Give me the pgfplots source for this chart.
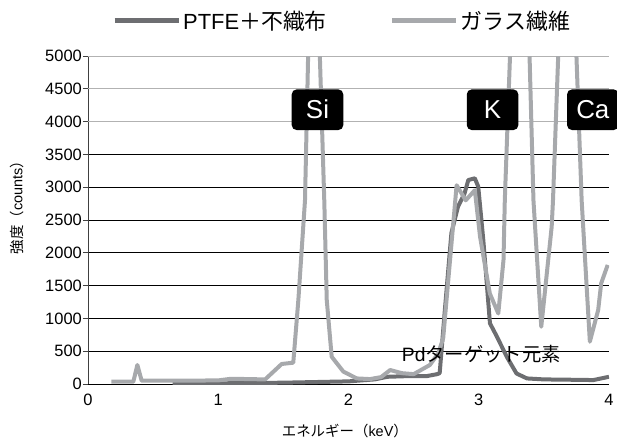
\documentclass[border=0pt]{standalone}
\usepackage{pgfplots}
\pgfplotsset{compat=1.18}
\usepackage{fontspec}
\setmainfont{Liberation Sans}
\newfontfamily\cjk{Noto Sans CJK JP}
\definecolor{darkser}{HTML}{6D6E71}
\definecolor{lightser}{HTML}{A7A9AC}
\begin{document}
\begin{tikzpicture}
\useasboundingbox (-88bp,-57bp) rectangle (529bp,384bp);
\begin{axis}[
  at={(0,0)}, anchor=south west,
  scale only axis, width=521bp, height=328bp,
  xmin=0, xmax=4, ymin=0, ymax=5000,
  clip mode=individual,
  xtick={0,1,2,3,4},
  ytick={0,500,1000,1500,2000,2500,3000,3500},
  extra y ticks={4000,4500,5000},
  extra y tick style={grid style={gray!60, line width=0.7bp}},
  ymajorgrids,
  grid style={black, line width=0.7bp},
  axis lines*=left,
  axis line style={black!75, line width=0.7bp},
  x axis line style={draw=none},
  xtick style={draw=none},
  ytick style={black!75, line width=0.7bp},
  tick align=outside,
  major tick length=5bp,
  /pgf/number format/assume math mode=true,
  /pgf/number format/1000 sep={},
  tick label style={font=\fontsize{16.5}{16.5}\selectfont},
  yticklabel style={inner sep=1pt},
  xticklabel style={inner sep=0pt, yshift=-5bp},
  xlabel={{\cjk エネルギー（}keV{\cjk ）}},
  ylabel={{\cjk 強度（}counts{\cjk ）}},
  label style={font=\fontsize{14.5}{14.5}\selectfont},
  xlabel style={at={(axis description cs:0.493,-0.143)}, anchor=center},
  ylabel style={at={(axis description cs:-0.1363,0.549)}, anchor=center, rotate=0},
  legend columns=2,
  legend style={at={(axis description cs:0,1)}, anchor=west, xshift=24bp, yshift=35.3bp,
    draw=none, fill=none, inner sep=0pt,
    font=\fontsize{22}{22}\selectfont,
    /tikz/every even column/.append style={column sep=61bp}},
  legend image code/.code={\draw[#1, line width=5bp] (0bp,0bp) -- (64bp,0bp);},
]
\addplot[darkser, line width=4bp, line join=round] coordinates {
(0.65,5) (1.0,10) (1.5,20) (2.0,40) (2.2,70) (2.3,110) (2.45,120) (2.6,120)
(2.68,150) (2.70,165) (2.74,1130) (2.79,2300) (2.84,2700) (2.89,2900)
(2.92,3110) (2.97,3135) (2.996,3010) (3.035,2195) (3.086,925) (3.14,720)
(3.215,415) (3.29,160) (3.37,85) (3.5,70) (3.7,65) (3.88,60) (4.0,110)
};
\addlegendentry{PTFE{\cjk ＋不織布}}
\addplot[lightser, line width=4bp, line join=round] coordinates {
(0.18,35) (0.348,35) (0.379,290) (0.412,50) (0.7,50) (1.0,55) (1.10,80)
(1.36,70) (1.487,305) (1.576,325) (1.615,1280) (1.666,2800) (1.69,5000)
(1.735,12000) (1.78,5000) (1.814,2800) (1.833,1280) (1.871,415) (1.96,190)
(2.063,85) (2.165,75) (2.25,105) (2.32,213) (2.41,165) (2.50,150) (2.625,290)
(2.69,470) (2.727,700) (2.83,3030) (2.90,2800) (2.97,2955) (3.01,2245)
(3.085,1380) (3.15,1075) (3.19,1890) (3.20,2800) (3.24,5000) (3.315,9500)
(3.39,5000) (3.42,2800) (3.48,873) (3.56,2400) (3.57,2800) (3.61,5000)
(3.68,9000) (3.75,5000) (3.79,2800) (3.853,645) (3.917,1128) (3.94,1535)
(3.99,1815)
};
\addlegendentry{{\cjk ガラス繊維}}
\node[fill=black, rounded corners=5bp, minimum width=51.6bp, minimum height=40.7bp,
  inner sep=0pt, text=white, font=\fontsize{26}{26}\selectfont] at (axis cs:1.762,4181) {Si};
\node[fill=black, rounded corners=5bp, minimum width=51.6bp, minimum height=40.7bp,
  inner sep=0pt, text=white, font=\fontsize{26}{26}\selectfont] at (axis cs:3.106,4181) {K};
\node[fill=black, rounded corners=5bp, minimum width=51.6bp, minimum height=40.7bp,
  inner sep=0pt, text=white, font=\fontsize{26}{26}\selectfont] at (axis cs:3.876,4181) {Ca};
\node[inner sep=0pt, font=\fontsize{19.4}{19.4}\selectfont] at (axis cs:3.02,457) {Pd{\cjk ターゲット元素}};
\end{axis}
\end{tikzpicture}
\end{document}
